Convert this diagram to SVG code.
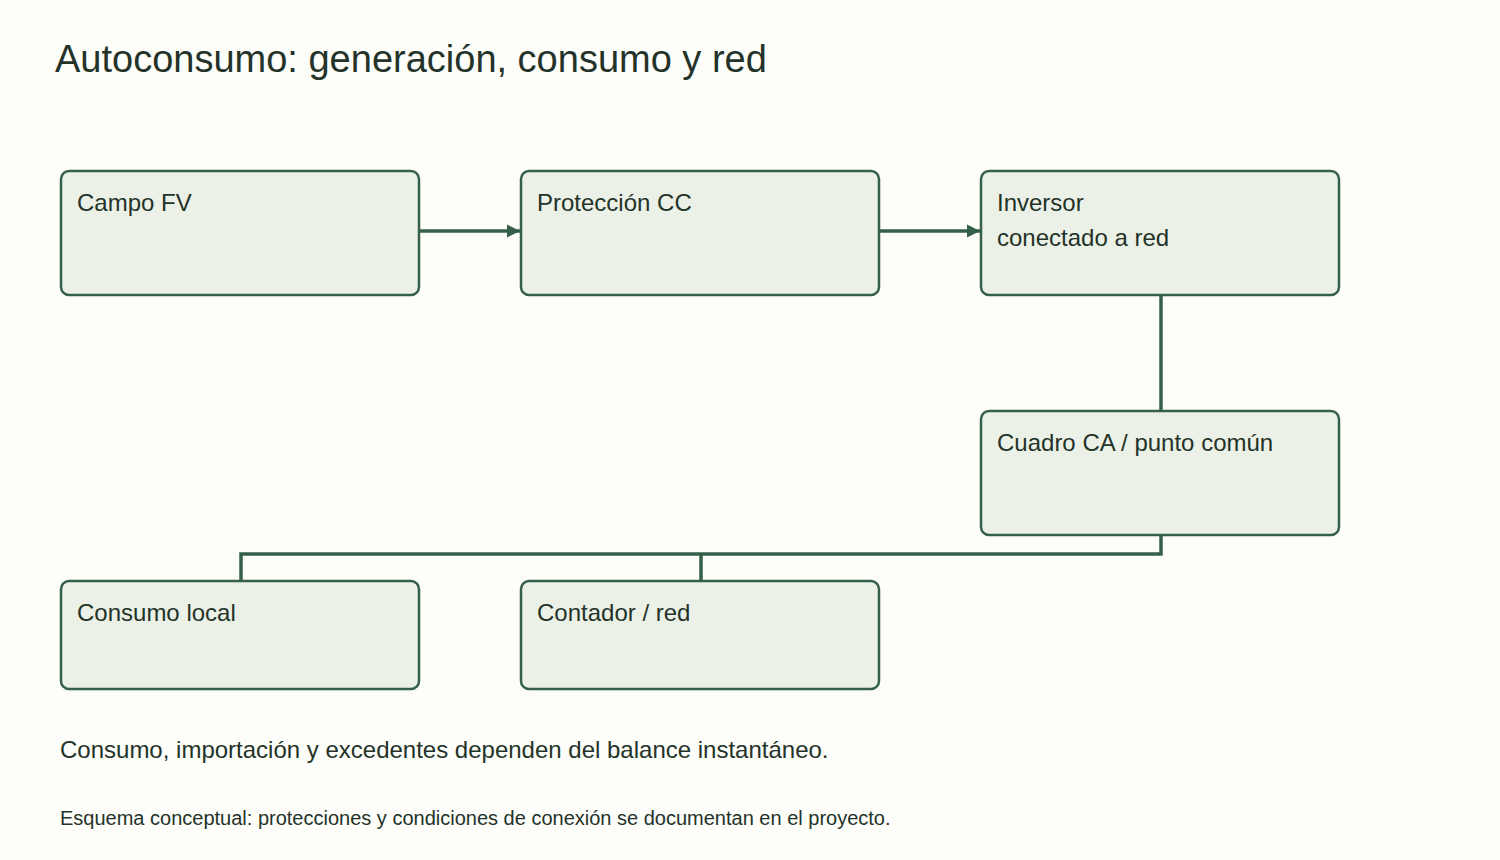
<svg xmlns="http://www.w3.org/2000/svg" width="1500" height="860" viewBox="0 0 1500 860">
<style>
.n rect{fill:#ebf1e7;stroke:#356048;stroke-width:2.5}
.n text{font-family:"Liberation Sans",Arial,sans-serif;font-size:24px;fill:#243329}
.c path{fill:none;stroke:#356048;stroke-width:3.5}
</style>
<defs><marker id="a" viewBox="0 0 10 10" refX="10" refY="5" markerWidth="13" markerHeight="15" markerUnits="userSpaceOnUse" orient="auto"><path d="M0 0L10 5L0 10z" fill="#356048"/></marker></defs>
<rect width="1500" height="860" fill="#fdfdf9"/>
<text x="55" y="72" font-family="Liberation Sans,Arial,sans-serif" font-size="38" fill="#243329">Autoconsumo: generación, consumo y red</text>
<g class="c">
<path d="M420 231H520" marker-end="url(#a)"/>
<path d="M880 231H980" marker-end="url(#a)"/>
<path d="M1161 295V411"/>
<path d="M1161 535V554H241V581M701 554V581"/>
</g>
<g class="n" id="n1"><rect x="61" y="171" width="358" height="124" rx="8"/><text x="77" y="211">Campo FV</text></g>
<g class="n" id="n2"><rect x="521" y="171" width="358" height="124" rx="8"/><text x="537" y="211">Protección CC</text></g>
<g class="n" id="n3"><rect x="981" y="171" width="358" height="124" rx="8"/><text x="997" y="211">Inversor</text><text x="997" y="246">conectado a red</text></g>
<g class="n" id="n4"><rect x="981" y="411" width="358" height="124" rx="8"/><text x="997" y="451">Cuadro CA / punto común</text></g>
<g class="n" id="n5"><rect x="61" y="581" width="358" height="108" rx="8"/><text x="77" y="621">Consumo local</text></g>
<g class="n" id="n6"><rect x="521" y="581" width="358" height="108" rx="8"/><text x="537" y="621">Contador / red</text></g>
<text x="60" y="758" font-family="Liberation Sans,Arial,sans-serif" font-size="24" fill="#243329">Consumo, importación y excedentes dependen del balance instantáneo.</text>
<text x="60" y="825" font-family="Liberation Sans,Arial,sans-serif" font-size="20" fill="#243329">Esquema conceptual: protecciones y condiciones de conexión se documentan en el proyecto.</text>
</svg>
